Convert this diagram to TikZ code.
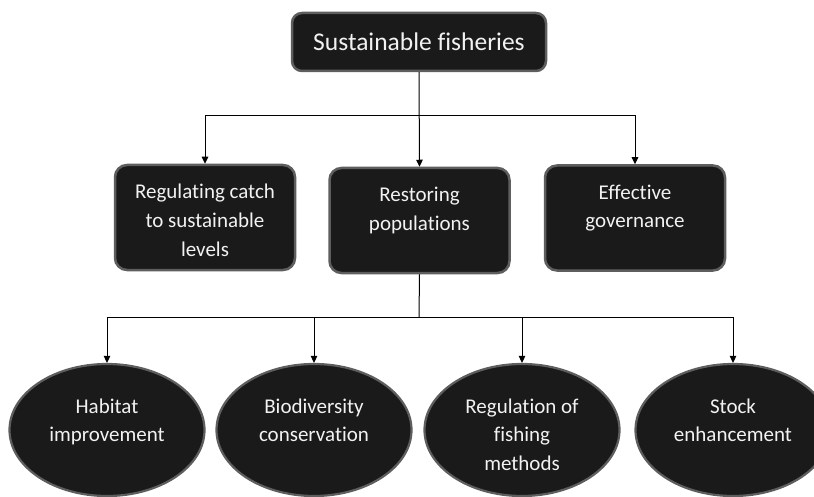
\documentclass[tikz,border=0pt]{standalone}
\usepackage{fontspec}
\setmainfont[Ligatures={NoCommon,NoRequired,NoContextual},Contextuals={NoAlternate},RawFeature={-dlig}]{Carlito}
\usetikzlibrary{arrows.meta,shapes.geometric,calc}
\definecolor{boxfill}{HTML}{1A1A1A}
\definecolor{boxline}{HTML}{5E5E5E}
\definecolor{boxtext}{HTML}{F2F2F2}
\newcommand{\toptext}[3]{\parbox[c][#1][t]{#2}{\centering\rule{0pt}{29pt}#3}}
\tikzset{
  topbox/.style={draw=boxline, line width=2.5pt, fill=boxfill, rounded corners=10pt,
    text=boxtext, minimum width=254pt, minimum height=58pt, inner sep=0pt,
    font=\fontsize{25.5}{30}\selectfont},
  midbox/.style={draw=boxline, line width=2.5pt, fill=boxfill, rounded corners=12pt,
    text=boxtext, minimum width=180pt, minimum height=105pt, inner sep=0pt,
    font=\fontsize{21}{28.5}\selectfont},
  leaf/.style={ellipse, draw=boxline, line width=2.2pt, fill=boxfill, text=boxtext,
    minimum width=195pt, minimum height=132pt, inner sep=0pt,
    font=\fontsize{21}{28.5}\selectfont},
  conn/.style={line width=1pt, draw=black},
  arr/.style={conn, -{Triangle[length=7pt,width=6.5pt]}}
}
\begin{document}
\begin{tikzpicture}[x=1pt,y=-1pt]
\useasboundingbox (0,0) rectangle (814,497);
\clip (0,0) rectangle (814,497);
% top
\node[topbox] (top) at (419,42) {Sustainable fisheries};
% middle row
\node[midbox] (b1) at (205,217.5) {\toptext{95pt}{170pt}{Regulating catch\\to sustainable\\levels}};
\node[midbox] (b2) at (419.5,220.5) {\toptext{95pt}{170pt}{Restoring\\populations}};
\node[midbox] (b3) at (635,218) {\toptext{95pt}{170pt}{Effective\\governance}};
% leaves
\node[leaf] (e1) at (107,430) {\toptext{92pt}{130pt}{Habitat\\improvement}};
\node[leaf] (e2) at (314,430) {\toptext{92pt}{130pt}{Biodiversity\\conservation}};
\node[leaf] (e3) at (522,430) {\toptext{92pt}{130pt}{Regulation of\\fishing\\methods}};
\node[leaf] (e4) at (733,430) {\toptext{92pt}{130pt}{Stock\\enhancement}};
% bus coordinates
\coordinate (bus1) at (419,116);
\coordinate (bus2) at (419,317);
% upper connectors
\draw[arr] (top.south) -- (b2.north);
\draw[arr] (bus1) -| (b1.north);
\draw[arr] (bus1) -| (b3.north);
% lower connectors
\draw[conn] (b2.south) -- (bus2);
\draw[arr] (bus2) -| (e1.north);
\draw[arr] (bus2) -| (e2.north);
\draw[arr] (bus2) -| (e3.north);
\draw[arr] (bus2) -| (e4.north);
\end{tikzpicture}
\end{document}
